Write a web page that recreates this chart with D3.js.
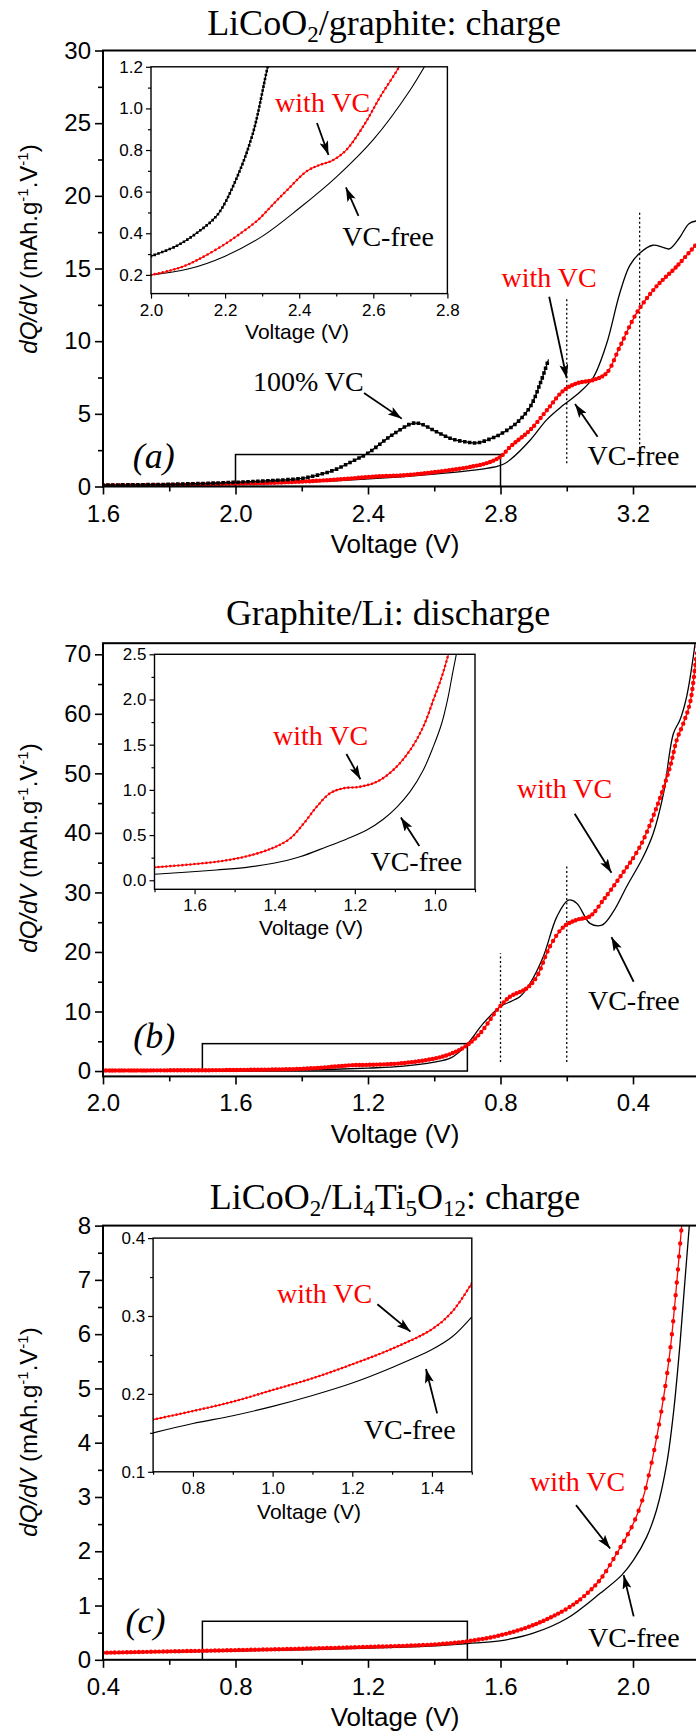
<!DOCTYPE html>
<html><head><meta charset="utf-8">
<script src="https://cdn.jsdelivr.net/npm/d3@7"></script>
<style>body{margin:0;background:#fff;}svg{display:block;}</style>
</head><body>
<svg id="chart" width="696" height="1732"></svg>
<script>
// ================= DATA =================
// Panel (a) LiCoO2/graphite: charge  [voltage, dQ/dV]
const aVCfree = [[1.6,0.08],[1.8,0.12],[2.0,0.2],[2.1,0.228],[2.2,0.29],[2.3,0.385],[2.4,0.52],[2.5,0.67],[2.6,0.85],[2.7,1.07],[2.75,1.22],[2.79,1.38],[2.81,1.55],[2.83,1.85],[2.89,3.2],[2.94,4.6],[2.99,5.6],[3.04,6.5],[3.08,7.5],[3.12,9.8],[3.16,13.3],[3.19,15.2],[3.22,16.05],[3.26,16.6],[3.29,16.45],[3.31,16.35],[3.34,17.1],[3.37,18.1],[3.4,18.3]];
const aWithVC = [[1.6,0.06],[1.8,0.1],[2.0,0.2],[2.1,0.25],[2.2,0.34],[2.3,0.47],[2.4,0.65],[2.45,0.72],[2.5,0.76],[2.55,0.86],[2.6,0.99],[2.67,1.2],[2.72,1.4],[2.76,1.62],[2.8,2.05],[2.83,2.75],[2.89,3.9],[2.94,5.25],[2.99,6.6],[3.03,7.1],[3.08,7.33],[3.12,7.8],[3.16,9.6],[3.21,11.9],[3.27,13.75],[3.33,15.1],[3.4,16.9]];
const a100VC = [[1.6,0.1],[1.8,0.15],[2.0,0.29],[2.1,0.4],[2.2,0.56],[2.25,0.8],[2.3,1.15],[2.35,1.7],[2.4,2.3],[2.47,3.5],[2.535,4.35],[2.56,4.3],[2.6,3.85],[2.65,3.3],[2.7,3.05],[2.73,3.0],[2.76,3.2],[2.8,3.6],[2.85,4.4],[2.89,5.5],[2.92,7.1],[2.945,8.75]];
const aInsetVCfree = [[2.0,0.2],[2.1,0.228],[2.2,0.29],[2.3,0.385],[2.4,0.52],[2.5,0.67],[2.6,0.85],[2.7,1.09],[2.76,1.27]];
const aInsetWithVC = [[2.0,0.2],[2.05,0.22],[2.1,0.25],[2.19,0.337],[2.25,0.41],[2.29,0.466],[2.33,0.54],[2.37,0.612],[2.42,0.698],[2.455,0.728],[2.49,0.75],[2.527,0.8],[2.575,0.92],[2.62,1.06],[2.67,1.2],[2.7,1.3]];
const aInset100VC = [[2.0,0.29],[2.07,0.34],[2.13,0.41],[2.18,0.49],[2.23,0.66],[2.275,0.88],[2.315,1.2],[2.33,1.3]];

// Panel (b) Graphite/Li: discharge
const bWithVC = [[2.0,0.1],[1.8,0.12],[1.6,0.18],[1.4,0.38],[1.3,0.75],[1.25,0.98],[1.2,1.04],[1.1,1.3],[1.0,2.1],[0.95,2.9],[0.907,4.1],[0.862,6.3],[0.807,10.5],[0.771,12.5],[0.721,13.9],[0.691,15.8],[0.651,20.9],[0.61,24.2],[0.57,25.4],[0.53,26.0],[0.49,28.7],[0.439,32.6],[0.379,37.7],[0.328,44.4],[0.288,51.1],[0.268,55.6],[0.248,58.4],[0.228,61.8],[0.21,69.0],[0.2,73]];
const bVCfree = [[2.0,0.05],[1.8,0.06],[1.6,0.1],[1.4,0.19],[1.3,0.3],[1.2,0.5],[1.1,0.78],[1.0,1.5],[0.95,2.2],[0.907,4.1],[0.852,8.0],[0.801,10.8],[0.741,12.5],[0.711,14.7],[0.671,19.2],[0.63,25.9],[0.595,28.7],[0.57,28.2],[0.53,24.8],[0.494,24.5],[0.459,26.8],[0.419,31.0],[0.369,36.0],[0.339,39.9],[0.308,46.6],[0.278,56.7],[0.258,59.0],[0.238,62.9],[0.218,69.6],[0.21,73]];
const bInsetWithVC = [[1.7,0.143],[1.545,0.205],[1.47,0.265],[1.403,0.36],[1.362,0.46],[1.329,0.62],[1.295,0.814],[1.262,0.962],[1.229,1.017],[1.187,1.035],[1.145,1.09],[1.104,1.22],[1.062,1.44],[1.029,1.7],[1.004,1.994],[0.983,2.25],[0.967,2.49],[0.958,2.65]];
const bInsetVCfree = [[1.7,0.066],[1.545,0.114],[1.47,0.143],[1.403,0.188],[1.337,0.26],[1.27,0.371],[1.22,0.457],[1.17,0.556],[1.129,0.675],[1.095,0.81],[1.062,0.98],[1.029,1.22],[1.004,1.478],[0.983,1.737],[0.967,2.03],[0.956,2.29],[0.947,2.49],[0.94,2.65]];

// Panel (c) LiCoO2/Li4Ti5O12: charge
const cWithVC = [[0.4,0.13],[0.6,0.155],[0.8,0.178],[1.0,0.205],[1.2,0.238],[1.4,0.283],[1.5,0.342],[1.598,0.45],[1.699,0.64],[1.8,0.94],[1.85,1.16],[1.9,1.47],[1.951,1.96],[2.001,2.51],[2.031,3.0],[2.051,3.49],[2.071,4.08],[2.092,4.82],[2.113,5.75],[2.132,6.94],[2.147,8.0],[2.155,8.6]];
const cVCfree = [[0.4,0.12],[0.6,0.14],[0.8,0.162],[1.0,0.184],[1.2,0.214],[1.4,0.257],[1.5,0.3],[1.598,0.35],[1.699,0.49],[1.8,0.76],[1.9,1.22],[1.966,1.56],[2.001,1.83],[2.041,2.26],[2.071,2.76],[2.102,3.62],[2.122,4.54],[2.142,5.83],[2.157,7.0],[2.17,8.0],[2.18,8.8]];
const cInsetWithVC = [[0.7,0.167],[0.8,0.178],[0.9,0.19],[1.0,0.205],[1.1,0.22],[1.2,0.238],[1.3,0.258],[1.4,0.283],[1.45,0.305],[1.5,0.342]];
const cInsetVCfree = [[0.7,0.15],[0.8,0.162],[0.9,0.172],[1.0,0.184],[1.1,0.198],[1.2,0.214],[1.3,0.234],[1.4,0.257],[1.45,0.273],[1.5,0.299]];

// Tick values
const aXTicks=[1.6,2.0,2.4,2.8,3.2], aXMinor=[1.8,2.2,2.6,3.0,3.4];
const aYTicks=[0,5,10,15,20,25,30], aYMinor=[2.5,7.5,12.5,17.5,22.5,27.5];
const aIXTicks=[2.0,2.2,2.4,2.6,2.8], aIXMinor=[2.1,2.3,2.5,2.7];
const aIYTicks=[0.2,0.4,0.6,0.8,1.0,1.2], aIYMinor=[0.3,0.5,0.7,0.9,1.1];
const bXTicks=[2.0,1.6,1.2,0.8,0.4], bXMinor=[1.8,1.4,1.0,0.6,0.2];
const bYTicks=[0,10,20,30,40,50,60,70], bYMinor=[5,15,25,35,45,55,65];
const bIXTicks=[1.6,1.4,1.2,1.0], bIXMinor=[1.7,1.5,1.3,1.1,0.9];
const bIYTicks=[0,0.5,1.0,1.5,2.0,2.5], bIYMinor=[0.25,0.75,1.25,1.75,2.25];
const cXTicks=[0.4,0.8,1.2,1.6,2.0], cXMinor=[0.6,1.0,1.4,1.8,2.2];
const cYTicks=[0,1,2,3,4,5,6,7,8], cYMinor=[0.5,1.5,2.5,3.5,4.5,5.5,6.5,7.5];
const cIXTicks=[0.8,1.0,1.2,1.4], cIXMinor=[0.7,0.9,1.1,1.3,1.5];
const cIYTicks=[0.1,0.2,0.3,0.4], cIYMinor=[0.15,0.25,0.35];

// Annotations (data units)
const aLabels=[{t:'100% VC',v:2.053,y:6.57},{t:'with VC',v:2.803,y:13.7,red:1},{t:'VC-free',v:3.063,y:1.48}];
const aArrows=[[2.388,6.43,2.502,4.67],[2.947,13.06,3.0,7.45],[3.093,3.43,3.025,5.68]];
const aGuides=[[3.0,1.6,13.06],[3.22,1.36,19.0]];
const aBox=[2.0,2.8,0,2.2];
const aILabels=[{t:'with VC',v:2.335,y:0.983,red:1},{t:'VC-free',v:2.516,y:0.339}];
const aIArrows=[[2.448,0.93,2.479,0.776],[2.56,0.483,2.526,0.62]];

const bLabels=[{t:'with VC',v:0.75,y:45.9,red:1},{t:'VC-free',v:0.536,y:10.25}];
const bArrows=[[0.576,43.2,0.465,33.3],[0.398,15.0,0.465,22.5]];
const bGuides=[[0.8,1.5,19.8],[0.6,1.5,34.7]];
const bBox=[1.7,0.9,0,4.6];
const bILabels=[{t:'with VC',v:1.404,y:1.497,red:1},{t:'VC-free',v:1.161,y:0.102}];
const bIArrows=[[1.221,1.397,1.186,1.117],[1.039,0.379,1.085,0.694]];

const cLabels=[{t:'with VC',v:1.689,y:3.11,red:1},{t:'VC-free',v:1.864,y:0.236}];
const cArrows=[[1.828,2.85,1.931,2.05],[2.002,0.80,1.972,1.56]];
const cGuides=[];
const cBox=[0.7,1.5,0,0.71];
const cILabels=[{t:'with VC',v:1.011,y:0.317,red:1},{t:'VC-free',v:1.229,y:0.142}];
const cIArrows=[[1.263,0.315,1.346,0.280],[1.413,0.175,1.385,0.232]];

// ================= DRAWING =================
const SERIF="'Liberation Serif','Times New Roman',serif";
const SANS="'Liberation Sans',Arial,sans-serif";
const RED='#ff0000';
const svg=d3.select('#chart');
const defs=svg.append('defs');
defs.append('marker').attr('id','arr').attr('viewBox','0 0 14 9').attr('refX',14).attr('refY',4.5)
  .attr('markerWidth',14).attr('markerHeight',9).attr('markerUnits','userSpaceOnUse').attr('orient','auto')
  .append('path').attr('d','M0,0L14,4.5L0,9L3,4.5Z').attr('fill','#000');

const f1=d3.format('.1f'), f0=d3.format('d');
let clipN=0;

const mainSt={tl:8,ml:5,padX:10,padY:4,fs:24,sw:1.6,lw:1.3,dot:4.4,sq:3.6,lfs:28,frame:2};
const insetSt={tl:5,ml:3,padX:5,padY:3,fs:17,sw:1.2,lw:1.1,dot:2.6,sq:2.6,lfs:28,frame:1.4};

// marker placement along the drawn path (style only): a marker every dxT px in x or every sT px of arc
function markDash(node,dxT,sT){
  const L=node.getTotalLength();
  if(!L) return 'none';
  const stops=[0]; let lastS=0, lastX=node.getPointAtLength(0).x;
  for(let s=0.5;s<=L;s+=0.5){
    const p=node.getPointAtLength(s);
    if(Math.abs(p.x-lastX)>=dxT||s-lastS>=sT){stops.push(s);lastS=s;lastX=p.x;}
  }
  const a=[];
  for(let i=1;i<stops.length;i++) a.push(0,+(stops[i]-stops[i-1]).toFixed(2));
  a.push(0,L+20);
  return a.join(' ');
}

function axes(g,x,y,c,st){
  const yb=y.range()[0], xl=x.range()[0];
  const all=[
    g.append('g').attr('transform',`translate(0,${yb})`).call(d3.axisBottom(x).tickValues(c.xT).tickSize(st.tl).tickPadding(st.padX).tickFormat(c.fx)),
    g.append('g').attr('transform',`translate(0,${yb})`).call(d3.axisBottom(x).tickValues(c.xM).tickSize(st.ml).tickFormat('')),
    g.append('g').attr('transform',`translate(${xl},0)`).call(d3.axisLeft(y).tickValues(c.yT).tickSize(st.tl).tickPadding(st.padY).tickFormat(c.fy)),
    g.append('g').attr('transform',`translate(${xl},0)`).call(d3.axisLeft(y).tickValues(c.yM).tickSize(st.ml).tickFormat(''))
  ];
  all.forEach(a=>{a.select('.domain').remove();
    a.selectAll('line').attr('stroke','#000').attr('stroke-width',st.sw);
    a.selectAll('text').attr('font-family',SANS).attr('font-size',st.fs).attr('fill','#000');});
}

function plot(g,c,st,isInset){
  const x=d3.scaleLinear().domain(c.xDom).range([c.left,c.right]);
  const y=d3.scaleLinear().domain(c.yDom).range([c.bottom,c.top]);
  const id='clip'+(clipN++);
  defs.append('clipPath').attr('id',id).append('rect').attr('x',c.left).attr('y',c.top).attr('width',c.right-c.left).attr('height',c.bottom-c.top);
  if(isInset) g.append('rect').attr('x',c.left).attr('y',c.top).attr('width',c.right-c.left).attr('height',c.bottom-c.top).attr('fill','#fff');
  const pg=g.append('g').attr('clip-path',`url(#${id})`);
  if(c.box){
    const b=c.box;
    pg.append('rect').attr('x',Math.min(x(b[0]),x(b[1]))).attr('y',y(b[3])).attr('width',Math.abs(x(b[1])-x(b[0]))).attr('height',y(b[2])-y(b[3]))
      .attr('fill','none').attr('stroke','#000').attr('stroke-width',1.5);
  }
  (c.guides||[]).forEach(gd=>{
    pg.append('line').attr('x1',x(gd[0])).attr('x2',x(gd[0])).attr('y1',y(gd[1])).attr('y2',y(gd[2]))
      .attr('stroke','#000').attr('stroke-width',1.3).attr('stroke-dasharray','2 2.5');
  });
  const line=d3.line().x(d=>x(d[0])).y(d=>y(d[1])).curve(d3.curveCatmullRom.alpha(0.5));
  c.series.forEach(se=>{
    const col=se.type==='red'?RED:'#000';
    pg.append('path').datum(se.d).attr('d',line).attr('fill','none').attr('stroke',col).attr('stroke-width',st.lw);
    if(se.type==='red'){
      const p=pg.append('path').datum(se.d).attr('d',line).attr('fill','none').attr('stroke',RED)
        .attr('stroke-width',st.dot).attr('stroke-linecap','round');
      p.attr('stroke-dasharray',markDash(p.node(),c.dx,c.ds));
    }
    if(se.type==='sq'){
      const p=pg.append('path').datum(se.d).attr('d',line).attr('fill','none').attr('stroke','#000')
        .attr('stroke-width',st.sq).attr('stroke-linecap','square');
      p.attr('stroke-dasharray',markDash(p.node(),100,c.sq));
    }
  });
  g.append('rect').attr('x',c.left).attr('y',c.top).attr('width',c.right-c.left).attr('height',c.bottom-c.top)
    .attr('fill','none').attr('stroke','#000').attr('stroke-width',st.frame);
  axes(g,x,y,c,st);
  (c.labels||[]).forEach(l=>g.append('text').attr('x',x(l.v)).attr('y',y(l.y)).text(l.t)
    .attr('font-family',SERIF).attr('font-size',st.lfs).attr('fill',l.red?RED:'#000'));
  (c.arrows||[]).forEach(a=>g.append('line').attr('x1',x(a[0])).attr('y1',y(a[1])).attr('x2',x(a[2])).attr('y2',y(a[3]))
    .attr('stroke','#000').attr('stroke-width',1.8).attr('marker-end','url(#arr)'));
  g.append('text').attr('x',c.xtX).attr('y',c.xtY).attr('text-anchor','middle').attr('font-family',SANS)
    .attr('font-size',isInset?21:26).text('Voltage (V)');
  return {x,y};
}

function title(parts,cx,by){
  const t=svg.append('text').attr('x',cx).attr('y',by).attr('text-anchor','middle').attr('font-family',SERIF).attr('font-size',36).attr('fill','#000');
  let shifted=false;
  parts.forEach(p=>{
    const ts=t.append('tspan').text(p[0]);
    if(p[1]&&!shifted){ts.attr('font-size',23).attr('dy',7);shifted=true;}
    else if(!p[1]&&shifted){ts.attr('font-size',36).attr('dy',-7);shifted=false;}
    else if(p[1]) ts.attr('font-size',23);
  });
}

function yTitle(cy){
  const t=svg.append('text').attr('transform',`translate(37,${cy}) rotate(-90)`).attr('text-anchor','middle')
    .attr('font-family',SANS).attr('font-size',24).attr('fill','#000');
  t.append('tspan').attr('font-style','italic').text('dQ/dV');
  t.append('tspan').text(' (mAh.g');
  t.append('tspan').attr('font-size',15).attr('dy',-9).text('-1');
  t.append('tspan').attr('font-size',24).attr('dy',9).text('.V');
  t.append('tspan').attr('font-size',15).attr('dy',-9).text('-1');
  t.append('tspan').attr('font-size',24).attr('dy',9).text(')');
}

function letter(g,s,xp,yp){
  g.append('text').attr('x',xp).attr('y',yp).attr('font-family',SERIF).attr('font-style','italic').attr('font-size',36).text(s);
}

// ---- Panel (a)
title([['LiCoO',0],['2',1],['/graphite: charge',0]],384,35);
yTitle(249);
{
  const g=svg.append('g');
  const s=plot(g,{xDom:[1.6,3.4],yDom:[0,30],left:103,right:699.25,top:50.5,bottom:486.5,
    xT:aXTicks,xM:aXMinor,yT:aYTicks,yM:aYMinor,fx:f1,fy:f0,dx:3,ds:6,sq:5,
    series:[{d:aVCfree,type:'line'},{d:aWithVC,type:'red'},{d:a100VC,type:'sq'}],
    box:aBox,guides:aGuides,labels:aLabels,arrows:aArrows,xtX:395,xtY:553},mainSt,false);
  letter(g,'(a)',s.x(1.69),s.y(1.27));
  const gi=svg.append('g');
  plot(gi,{xDom:[2.0,2.8],yDom:[0.11,1.2],left:151,right:447.4,top:66.8,bottom:293.6,
    xT:aIXTicks,xM:aIXMinor,yT:aIYTicks,yM:aIYMinor,fx:f1,fy:f1,dx:3.5,ds:4.5,sq:4,
    series:[{d:aInsetVCfree,type:'line'},{d:aInsetWithVC,type:'red'},{d:aInset100VC,type:'sq'}],
    labels:aILabels,arrows:aIArrows,xtX:297,xtY:339},insetSt,true);
}
// ---- Panel (b)
title([['Graphite/Li: discharge',0]],388,624.6);
yTitle(848);
{
  const g=svg.append('g');
  const s=plot(g,{xDom:[2.0,0.2],yDom:[-0.9,71.86],left:103,right:699.25,top:643.2,bottom:1076.4,
    xT:bXTicks,xM:bXMinor,yT:bYTicks,yM:bYMinor,fx:f1,fy:f0,dx:3,ds:6,
    series:[{d:bVCfree,type:'line'},{d:bWithVC,type:'red'}],
    box:bBox,guides:bGuides,labels:bLabels,arrows:bArrows,xtX:395,xtY:1143},mainSt,false);
  letter(g,'(b)',s.x(1.909),s.y(3.86));
  const gi=svg.append('g');
  plot(gi,{xDom:[1.7,0.9],yDom:[-0.1,2.5],left:154.5,right:475,top:654.3,bottom:889.3,
    xT:bIXTicks,xM:bIXMinor,yT:bIYTicks,yM:bIYMinor,fx:f1,fy:f1,dx:3.5,ds:4.5,
    series:[{d:bInsetVCfree,type:'line'},{d:bInsetWithVC,type:'red'}],
    labels:bILabels,arrows:bIArrows,xtX:311,xtY:935},insetSt,true);
}
// ---- Panel (c)
title([['LiCoO',0],['2',1],['/Li',0],['4',1],['Ti',0],['5',1],['O',0],['12',1],[': charge',0]],395,1209.4);
yTitle(1432);
{
  const g=svg.append('g');
  const s=plot(g,{xDom:[0.4,2.2],yDom:[0,8],left:103,right:699.25,top:1225.6,bottom:1659.8,
    xT:cXTicks,xM:cXMinor,yT:cYTicks,yM:cYMinor,fx:f1,fy:f0,dx:3.5,ds:13,
    series:[{d:cVCfree,type:'line'},{d:cWithVC,type:'red'}],
    box:cBox,guides:cGuides,labels:cLabels,arrows:cArrows,xtX:395,xtY:1726},mainSt,false);
  letter(g,'(c)',s.x(0.468),s.y(0.5));
  const gi=svg.append('g');
  plot(gi,{xDom:[0.7,1.5],yDom:[0.1,0.4],left:153.1,right:471.8,top:1238.1,bottom:1471.8,
    xT:cIXTicks,xM:cIXMinor,yT:cIYTicks,yM:cIYMinor,fx:f1,fy:f1,dx:3.5,ds:4.5,
    series:[{d:cInsetVCfree,type:'line'},{d:cInsetWithVC,type:'red'}],
    labels:cILabels,arrows:cIArrows,xtX:309,xtY:1519},insetSt,true);
}
</script>
</body></html>
